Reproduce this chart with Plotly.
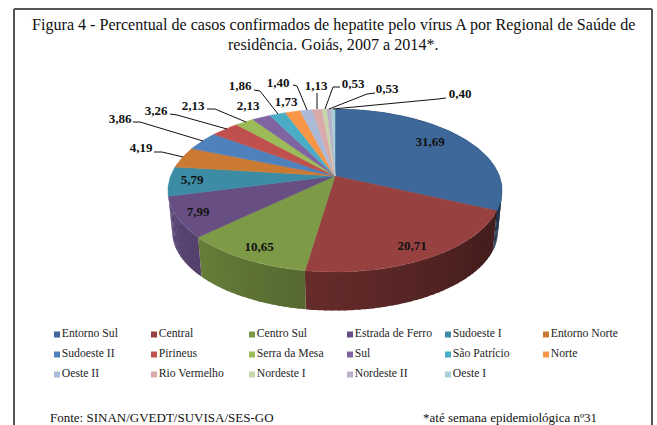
import numpy as np
import plotly.graph_objects as go

# ---------- data ----------
regions = ["Entorno Sul", "Central", "Centro Sul", "Estrada de Ferro", "Sudoeste I", "Entorno Norte",
           "Sudoeste II", "Pirineus", "Serra da Mesa", "Sul", "São Patrício", "Norte",
           "Oeste II", "Rio Vermelho", "Nordeste I", "Nordeste II", "Oeste I"]
percent = [31.69, 20.71, 10.65, 7.99, 5.79, 4.19, 3.86, 3.26, 2.13, 2.13, 1.86, 1.73, 1.40, 1.13, 0.53, 0.53, 0.40]
colors = ["#3E6899", "#974140", "#7D9A47", "#674F83", "#3C8CA5", "#CB7A34",
          "#4F81BD", "#C0504D", "#9BBB59", "#8064A2", "#4BACC6", "#F79646",
          "#AABAD7", "#D9AAA9", "#C6D6AC", "#BAB0C9", "#A9CED9"]
title_lines = ["Figura 4 - Percentual de casos confirmados de hepatite pelo vírus A por Regional de Saúde de",
               "residência. Goiás, 2007 a 2014*."]
source_text = "Fonte: SINAN/GVEDT/SUVISA/SES-GO"
note_text = "*até semana epidemiológica nº31"

# ---------- layout constants (axis units equal page pixels) ----------
W, H = 657, 425
APEX = (335, 176)
K, A, C = 164.4, 78.9, -0.178      # perspective of the pie's tilted circle
DEPTH, SHRINK = 41, 0.975          # wall height and perspective shrink of lower rim
SERIF = "Liberation Serif"

label_xy = [(430, 143), (412, 247), (259, 248), (198, 213), (192, 181), (141, 149),
            (120, 120), (156, 112), (193, 107), (248, 107), (240, 87), (286, 103),
            (278, 84), (316, 87), (353, 85), (387, 90), (460, 95)]
leaders = {5: [(154, 152), (162, 152), (183, 157)],
           6: [(133, 122), (140, 122), (203, 141)],
           7: [(170, 114), (177, 115), (227, 129)],
           8: [(207, 109), (215, 109), (246, 122)],
           10: [(254, 90), (260, 91), (278, 114)],
           12: [(293, 85), (297, 86), (307, 110)],
           13: [(317, 93), (317, 109)],
           14: [(340, 87), (333, 87), (325, 109)],
           15: [(375, 93), (367, 94), (329, 109)],
           16: [(446, 98), (438, 99), (333, 109)]}
legend_cols = [57, 154, 252, 350, 448, 546]
legend_rows = [334.5, 354.5, 374.5]


def rim(t_deg, lower=False):
    t = np.radians(np.asarray(t_deg, dtype=float))
    u, v = np.sin(t), -np.cos(t)
    d = 1 + C * v
    X, Y = K * u / d, A * v / d
    if lower:
        X, Y = X * SHRINK, Y * SHRINK + DEPTH
    return APEX[0] + X, APEX[1] + Y


def shade(hex_color, f):
    r, g, b = (int(hex_color[i:i + 2], 16) for i in (1, 3, 5))
    return f"rgb({int(r * f)},{int(g * f)},{int(b * f)})"


fig = go.Figure()

# slice boundaries from the values
edges = np.concatenate([[0], np.cumsum(percent)]) / sum(percent) * 360

# side wall, in narrow shaded strips (only the four front slices show one)
for i, color in enumerate(colors[:4]):
    a0, a1 = edges[i], edges[i + 1]
    if a1 < 85:
        continue
    n = max(2, int((a1 - a0) / 2))
    steps = np.linspace(a0, a1, n + 1)
    for s0, s1 in zip(steps[:-1], steps[1:]):
        s1_over = min(s1 + 0.6, a1)
        ts = np.linspace(s0, s1_over, 4)
        xt, yt = rim(ts)
        xb, yb = rim(ts[::-1], lower=True)
        mid = (s0 + s1) / 2
        f = float(np.clip(0.42 + (mid - 114) * 0.43 / 121, 0.42, 0.88))
        if mid < 114:
            f = 0.5
        c = shade(color, f)
        fig.add_trace(go.Scatter(x=np.r_[xt, xb], y=np.r_[yt, yb], mode="none", fill="toself",
                                 fillcolor=c, hoverinfo="skip", showlegend=False))

# top surface
for i, color in enumerate(colors):
    ts = np.linspace(edges[i], edges[i + 1], max(3, int(edges[i + 1] - edges[i]) + 2))
    xs, ys = rim(ts)
    fig.add_trace(go.Scatter(x=np.r_[APEX[0], xs, APEX[0]], y=np.r_[APEX[1], ys, APEX[1]],
                             mode="lines", fill="toself", fillcolor=color,
                             line=dict(color=color, width=0.5), name=regions[i],
                             text=f"{regions[i]}: {percent[i]:.2f}", hoverinfo="text", showlegend=False))

# leader lines
for pts in leaders.values():
    fig.add_trace(go.Scatter(x=[p[0] for p in pts], y=[p[1] for p in pts], mode="lines",
                             line=dict(color="#111111", width=1), hoverinfo="skip", showlegend=False))

# value labels
fig.add_trace(go.Scatter(x=[p[0] for p in label_xy], y=[p[1] for p in label_xy], mode="text",
                         text=[f"{v:.2f}".replace(".", ",") for v in percent],
                         textposition="middle center",
                         textfont=dict(family=SERIF, size=13, color="#111111", weight="bold"),
                         hoverinfo="skip", showlegend=False))

# legend grid
for i, (name, color) in enumerate(zip(regions, colors)):
    fig.add_trace(go.Scatter(x=[legend_cols[i % 6]], y=[legend_rows[i // 6]], mode="markers+text",
                             marker=dict(symbol="square", size=6, color=color),
                             text=[name], textposition="middle right",
                             textfont=dict(family=SERIF, size=11.7, color="#262626"),
                             hoverinfo="skip", showlegend=False))

# title and footer
for txt, x, y, size in [(title_lines[0], 333, 25, 16.1), (title_lines[1], 333, 44, 16.1)]:
    fig.add_annotation(x=x, y=y, text=txt, showarrow=False, xanchor="center", yanchor="middle",
                       font=dict(family=SERIF, size=size, color="#111111"))
fig.add_annotation(x=48, y=417.5, text=source_text, showarrow=False, xanchor="left", yanchor="middle",
                   font=dict(family=SERIF, size=13, color="#111111"))
fig.add_annotation(x=421, y=417.5, text=note_text, showarrow=False, xanchor="left", yanchor="middle",
                   font=dict(family=SERIF, size=13, color="#111111"))

# open frame (no bottom edge)
fig.add_shape(type="line", x0=14, x1=14, y0=9, y1=425, line=dict(color="#555555", width=2))
fig.add_shape(type="line", x0=14, x1=652, y0=9, y1=9, line=dict(color="#555555", width=2))
fig.add_shape(type="line", x0=652, x1=652, y0=9, y1=425, line=dict(color="#555555", width=2))

fig.update_xaxes(range=[0, W], visible=False, fixedrange=True)
fig.update_yaxes(range=[H, 0], visible=False, fixedrange=True)
fig.update_layout(width=W, height=H, margin=dict(l=0, r=0, t=0, b=0),
                  paper_bgcolor="white", plot_bgcolor="white", showlegend=False)
fig.write_html("out.html", config={"displayModeBar": False},
               post_script="document.body.style.margin='0';document.documentElement.style.overflow='hidden';")
